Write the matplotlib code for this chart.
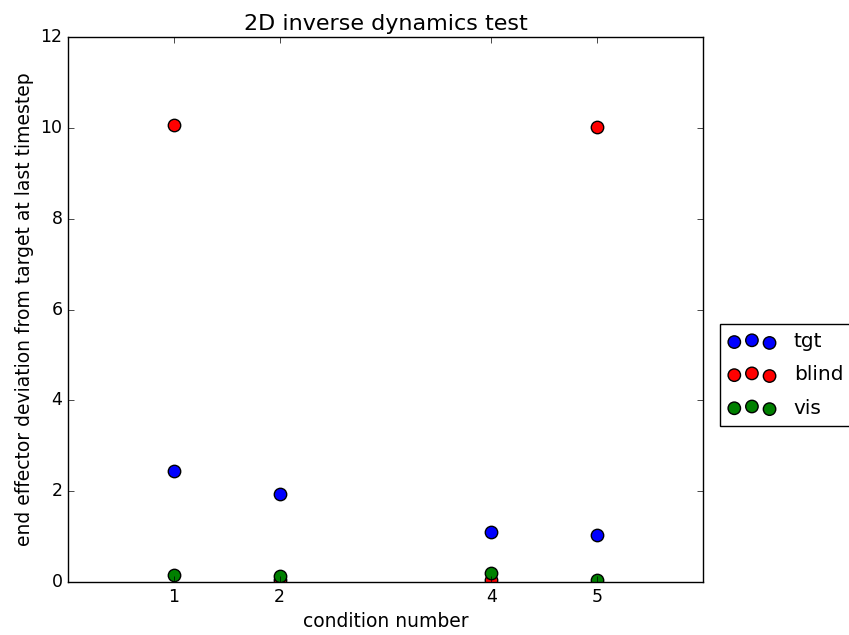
import matplotlib
matplotlib.use("Agg")
import matplotlib.pyplot as plt

# per-condition end effector deviations
conditions = [1, 2, 4, 5]
tgt = [2.44, 1.94, 1.10, 1.04]
blind = [10.06, 0.05, 0.05, 10.02]
vis = [0.15, 0.14, 0.19, 0.04]

series = [("tgt", tgt, "b"), ("blind", blind, "r"), ("vis", vis, "g")]


def main():
    plt.style.use("classic")
    fig = plt.figure(figsize=(8.49, 6.35), dpi=100, facecolor="white")
    ax = fig.add_axes([0.0801, 0.0835, 0.748, 0.858])

    for label, vals, col in series:
        ax.scatter(conditions, vals, s=80, c=col, edgecolors="k", linewidths=1.0,
                   label=label)

    ax.set_xlim(0, 6)
    ax.set_ylim(0, 12)
    ax.set_xticks(conditions)
    ax.set_title("2D inverse dynamics test", fontsize=16)
    ax.set_xlabel("condition number", fontsize=13.5)
    ax.set_ylabel("end effector deviation from target at last timestep", fontsize=13.5)
    ax.tick_params(labelsize=12.5)
    ax.legend(loc="center left", bbox_to_anchor=(1.027, 0.38), borderaxespad=0,
              scatterpoints=3, fontsize=14.5, labelspacing=0.7,
              handlelength=2.35, handletextpad=0.9)

    fig.savefig("out.png", dpi=100, facecolor="white")


if __name__ == "__main__":
    main()
